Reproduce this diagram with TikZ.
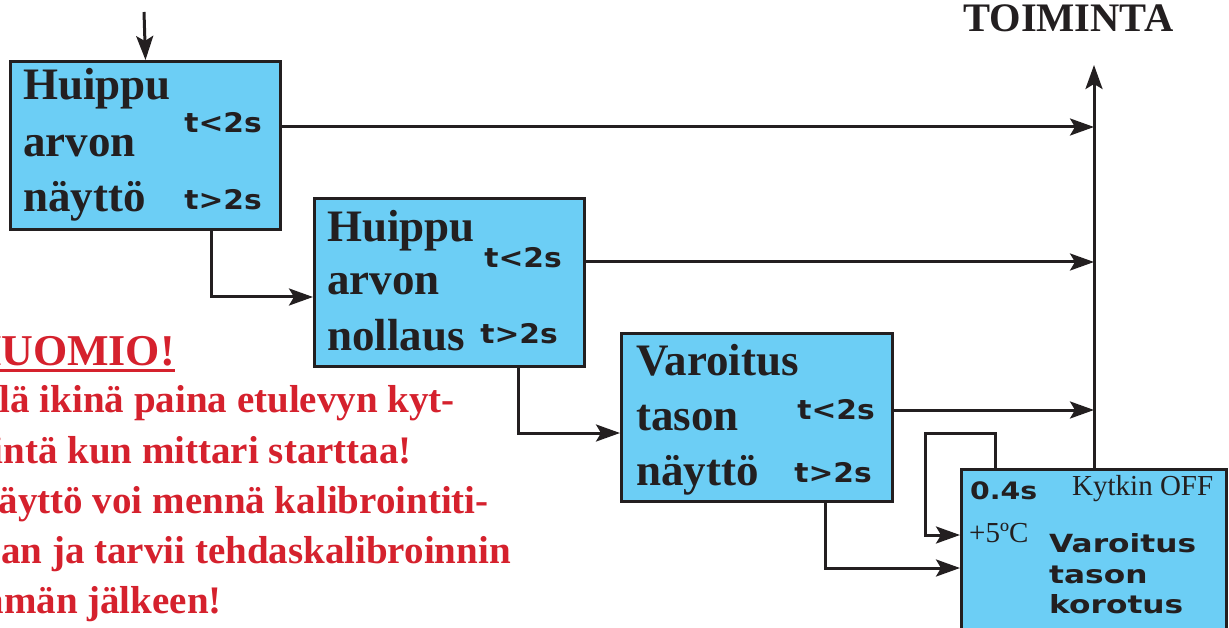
\documentclass[tikz,border=0pt]{standalone}
\usepackage{fontspec}
\setmainfont{Liberation Serif}
\newfontfamily\heavy{DejaVu Sans}[FakeStretch=1.1]
\newfontfamily\heavyz{DejaVu Sans}[FakeStretch=1.18]
\newfontfamily\wider{DejaVu Sans}[FakeStretch=1.25]
\usetikzlibrary{arrows.meta,calc}
\definecolor{boxblue}{RGB}{108,206,245}
\definecolor{ink}{RGB}{35,31,32}
\definecolor{warnred}{RGB}{213,33,45}
\tikzset{
  blk/.style={draw=ink, fill=boxblue, line width=3pt, rectangle, anchor=north west, inner sep=0pt},
  big/.style={font=\fontsize{45}{45}\selectfont\bfseries, text=ink, anchor=base west, inner sep=0pt},
  tlab/.style={font=\fontsize{27}{27}\selectfont\heavy\bfseries, text=ink, anchor=base east, inner sep=0pt},
  small/.style={font=\fontsize{29}{29}\selectfont, text=ink, anchor=base west, inner sep=0pt},
  wide/.style={font=\fontsize{25}{25}\selectfont\wider\bfseries, text=ink, anchor=base west, inner sep=0pt},
  conn/.style={draw=ink, line width=3pt},
  arr/.style={conn, -{Stealth[length=24pt,width=17pt,inset=5pt]}},
  warn/.style={font=\fontsize{39}{39}\selectfont\bfseries, text=warnred, anchor=base east, inner sep=0pt},
}
\begin{document}
\begin{tikzpicture}[x=1pt,y=-1pt]
\useasboundingbox (0,0) rectangle (1229,628);
\clip (0,0) rectangle (1229,628);

% boxes
\node[blk, minimum width=270pt, minimum height=168pt] (b1) at (9,60) {};
\node[blk, minimum width=270pt, minimum height=168pt] (b2) at (313,197) {};
\node[blk, minimum width=271pt, minimum height=168pt] (b3) at (620,332) {};
\node[blk, minimum width=265pt, minimum height=220pt] (b4) at (960,468) {};

% box 1 texts
\node[big] (b1a) at (23,100) {Huippu};
\node[big] (b1b) at (23,157) {arvon};
\node[big] (b1c) at (23,212) {näyttö};
\node[tlab] (b1s) at (262,133) {t<2s};
\node[tlab] (b1l) at (262,210) {t>2s};

% box 2 texts
\node[big] (b2a) at (327,242) {Huippu};
\node[big] (b2b) at (327,295) {arvon};
\node[big] (b2c) at (327,350) {nollaus};
\node[tlab] (b2s) at (562,268) {t<2s};
\node[tlab] (b2l) at (558,344) {t>2s};

% box 3 texts
\node[big] (b3a) at (636,375) {Varoitus};
\node[big] (b3b) at (636,430) {tason};
\node[big] (b3c) at (636,485) {näyttö};
\node[tlab] (b3s) at (875,419) {t<2s};
\node[tlab] (b3l) at (872,482) {t>2s};

% box 4 texts
\node[wide, font=\fontsize{24}{24}\selectfont\heavyz\bfseries] (b4t) at (970,499) {0.4s};
\node[small] (b4k) at (1072,495) {Kytkin OFF};
\node[small] (b4p) at (969,542) {+5ºC};
\node[wide] (b4a) at (1049,552) {Varoitus};
\node[wide] (b4b) at (1049,583) {tason};
\node[wide] (b4c) at (1049,613) {korotus};

% title
\node[font=\fontsize{40.5}{40.5}\selectfont\bfseries, text=ink, anchor=base west, inner sep=0pt] (toim) at (963,32) {TOIMINTA};

% warning text
\node[warn, font=\fontsize{44}{44}\selectfont\bfseries] (h) at (175,365) {HUOMIO!};
\draw[warnred, line width=3pt] ([yshift=-5pt]h.base west) -- ([yshift=-5pt]h.base east);
\node[warn] (w1) at (455,412) {Älä ikinä paina etulevyn kyt-};
\node[warn] (w2) at (412,463) {kintä kun mittari starttaa!};
\node[warn] (w3) at (489,513) {Näyttö voi mennä kalibrointiti-};
\node[warn] (w4) at (511,563) {laan ja tarvii tehdaskalibroinnin};
\node[warn] (w5) at (222,613) {tämän jälkeen!};

% connectors
\coordinate (start) at (144,12);
\coordinate (act) at (1094,65);
\draw[arr] (start) -- (b1.north);

\coordinate (o1) at ($(b1.north east)+(0,67)$);
\coordinate (o2) at ($(b2.north east)+(0,65)$);
\coordinate (o3) at ($(b3.north east)+(0,78)$);
\draw[arr] (o1) -- (o1 -| act);
\draw[arr] (o2) -- (o2 -| act);
\draw[arr] (o3) -- (o3 -| act);

\coordinate (d1) at ($(b1.south west)+(202,0)$);
\coordinate (e2) at ($(b2.north west)+(0,100)$);
\draw[arr] (d1) |- (e2);
\coordinate (d2) at ($(b2.south west)+(205,0)$);
\coordinate (e3) at ($(b3.north west)+(0,101)$);
\draw[arr] (d2) |- (e3);
\coordinate (d3) at ($(b3.south west)+(205,0)$);
\coordinate (e4) at ($(b4.north west)+(0,100)$);
\draw[arr] (d3) |- (e4);

\coordinate (lp0) at ($(b4.north west)+(35,0)$);
\coordinate (lp1) at (925,433);
\coordinate (lpe) at ($(b4.north west)+(0,67)$);
\draw[arr] (lp0) |- (lp1) |- (lpe);

\coordinate (up) at ($(b4.north west)+(134,0)$);
\draw[arr] (up) -- (up |- act);
\end{tikzpicture}
\end{document}
